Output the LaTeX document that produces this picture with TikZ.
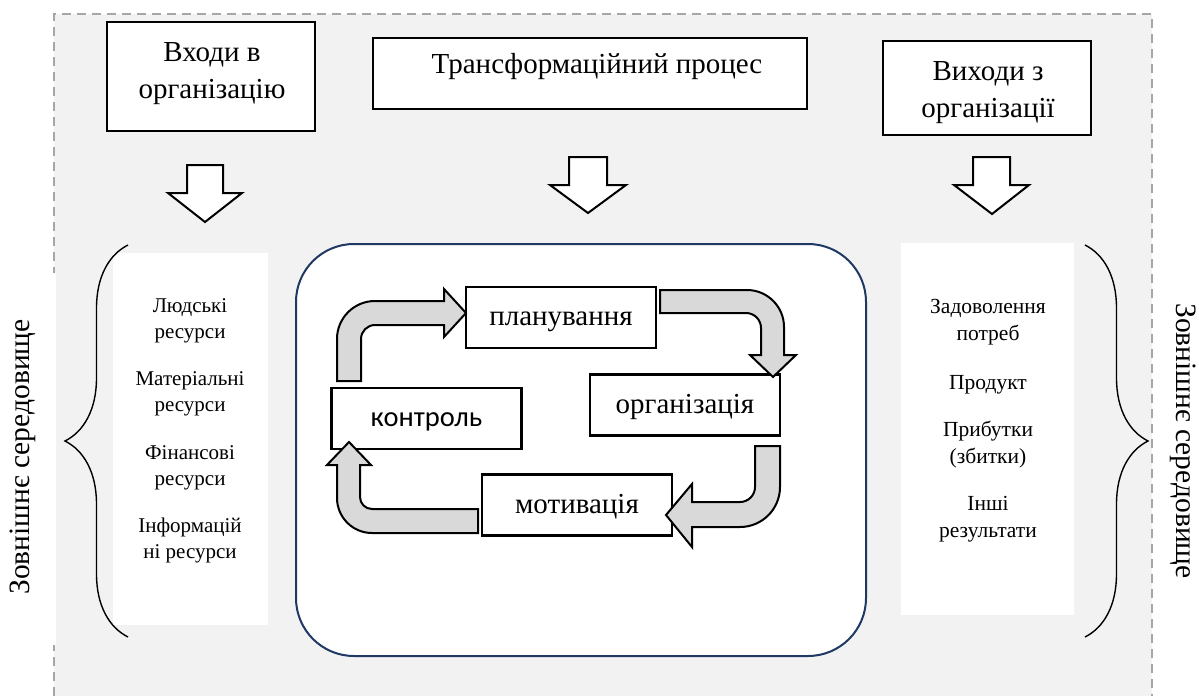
\documentclass[tikz,border=0pt]{standalone}
\usepackage{fontspec}
\setmainfont{Liberation Serif}
\newfontfamily\calib{Carlito}
\usetikzlibrary{decorations.pathreplacing}
\definecolor{envgrey}{HTML}{F2F2F2}
\definecolor{framegrey}{HTML}{A6A6A6}
\definecolor{cyclegrey}{HTML}{D9D9D9}
\definecolor{navy}{HTML}{1F3864}

\begin{document}
\begin{tikzpicture}[x=1pt,y=-1pt,
  hdrbox/.style={draw=black,line width=2.4pt,fill=white,inner sep=0pt},
  hdrtext/.style={align=center,inner sep=0pt,anchor=base,font=\fontsize{29}{36.5}\selectfont},
  stagebox/.style={draw=black,line width=2.2pt,fill=white,inner sep=0pt,
    minimum width=190pt,minimum height=61pt,text height=22pt,text depth=6pt,
    font=\fontsize{29}{32}\selectfont},
  listtext/.style={align=center,inner sep=0pt,anchor=base,font=\fontsize{21}{26}\selectfont},
  outtext/.style={align=center,inner sep=0pt,anchor=base,font=\fontsize{21.5}{27}\selectfont},
  hollowarrow/.style={draw=black,line width=2pt,fill=white,line join=miter},
  cyclearrow/.style={draw=black,line width=2pt,fill=cyclegrey,line join=miter},
  bracestyle/.style={draw=black,line width=1.4pt,decorate,
    decoration={brace,amplitude=63pt}},
  envtext/.style={inner sep=0pt,font=\fontsize{29.5}{32}\selectfont}]

\useasboundingbox (0,0) rectangle (1199,696);

% environment frame
\fill[envgrey] (54,14) rectangle (1152,696);
\draw[framegrey,line width=2pt,dash pattern=on 9pt off 6pt]
  (54,696) -- (54,14) -- (1152,14) -- (1152,696);
\fill[white] (0,273) rectangle (56,645);

% header boxes (text anchored on the baseline of its last line)
\node[hdrbox,minimum width=208pt,minimum height=109pt] (inbox) at (211,76.5) {};
\node[hdrtext] (intext) at (212,98) {Входи в\\організацію};
\node[hdrbox,minimum width=434pt,minimum height=71pt] (trbox) at (590,73.5) {};
\node[hdrtext] (trtext) at (597,73) {Трансформаційний процес};
\node[hdrbox,minimum width=208pt,minimum height=94pt] (outbox) at (987,88) {};
\node[hdrtext] (outtext) at (988,117) {Виходи з\\організації};

% hollow down arrows
\draw[hollowarrow] (187,165) -- (223,165) -- (223,193) -- (242,193) -- (205,222)
  -- (168,193) -- (187,193) -- cycle;
\draw[hollowarrow] (569,157) -- (607,157) -- (607,185) -- (626,185) -- (588,213)
  -- (550,185) -- (569,185) -- cycle;
\draw[hollowarrow] (973,157) -- (1010,157) -- (1010,185) -- (1029,185) -- (992,214)
  -- (954,185) -- (973,185) -- cycle;

% resource and result panels
\fill[white] (113,253) rectangle (268,625);
\fill[white] (901,243) rectangle (1074,615);
\draw[bracestyle] (128,637) -- (128,245);
\draw[bracestyle] (1085,245) -- (1085,637);

\node[listtext] (res1) at (190,338) {Людські\\ресурси};
\node[listtext] (res2) at (190,411) {Матеріальні\\ресурси};
\node[listtext] (res3) at (190,485) {Фінансові\\ресурси};
\node[listtext] (res4) at (190,558) {Інформацій\\ні ресурси};

\node[outtext] (out1) at (988,340) {Задоволення\\потреб};
\node[outtext] (out2) at (988,389) {Продукт};
\node[outtext] (out3) at (988,463) {Прибутки\\(збитки)};
\node[outtext] (out4) at (988,537) {Інші\\результати};

% side labels
\node[envtext,rotate=90] (envleft) at (23,457) {Зовнішнє середовище};
\node[envtext,rotate=-90] (envright) at (1183,441) {Зовнішнє середовище};

% transformation process panel
\draw[navy,line width=2pt,fill=white,rounded corners=58pt] (296,244) rectangle (866,656);

% management functions
\node[stagebox] (plan) at (561,317.5) {планування};
\node[stagebox,font=\calib\fontsize{28.5}{32}\selectfont] (ctrl) at (426.5,418.5) {контроль};
\node[stagebox] (org) at (685,405) {організація};
\node[stagebox] (motiv) at (577,505) {мотивація};

% control -> planning
\draw[cyclearrow] (361,381) -- (361,339)
  .. controls (361,331.3) and (367.3,325) .. (375,325)
  -- (444,325) -- (444,337) -- (466,313) -- (444,289) -- (444,301)
  -- (375,301)
  .. controls (354,301) and (337,318) .. (337,339)
  -- (337,381) -- cycle;

% planning -> organisation
\draw[cyclearrow] (660,290) -- (747,290)
  .. controls (767.4,290) and (784,306.6) .. (784,327)
  -- (784,355) -- (796,355) -- (773,377) -- (750,355) -- (761,355)
  -- (761,328)
  .. controls (761,319.7) and (754.3,313) .. (746,313)
  -- (660,313) -- cycle;

% organisation -> motivation
\draw[cyclearrow] (755,446) -- (780,446) -- (780,487)
  .. controls (780,509.1) and (762.1,527) .. (740,527)
  -- (692,527) -- (692,547) -- (666,515) -- (692,484) -- (692,502)
  -- (740,502)
  .. controls (748.3,502) and (755,495.3) .. (755,487)
  -- cycle;

% motivation -> control
\draw[cyclearrow] (478,509) -- (478,533) -- (372,533)
  .. controls (352.7,533) and (337,517.3) .. (337,498)
  -- (337,465) -- (327,465) -- (349,442) -- (371,465) -- (360,465)
  -- (360,497)
  .. controls (360,503.6) and (365.4,509) .. (372,509)
  -- cycle;

\end{tikzpicture}
\end{document}
